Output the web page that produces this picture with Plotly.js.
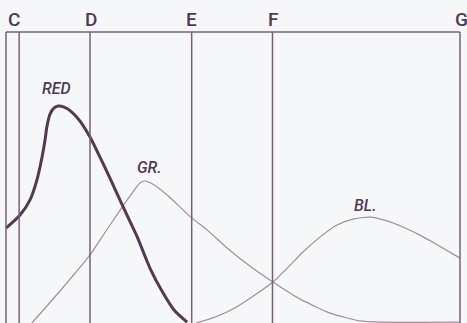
<!DOCTYPE html>
<html>
<head>
<meta charset="utf-8">
<script src="https://cdn.plot.ly/plotly-3.0.1.min.js"></script>
<style>
html,body{margin:0;padding:0;background:#f6f7f9;}
#chart{width:467px;height:323px;}
</style>
</head>
<body>
<div id="chart"></div>
<script>
// Fraunhofer lines (position along the spectrum scale, frame = 0..100)
var lineLabels = ["C", "D", "E", "F", "G"];
var linePos = [2.9, 18.5, 40.9, 58.7, 100];

// Red sensation curve
var redX = [0, 3.1, 5.3, 6.8, 7.9, 8.6, 9.0, 9.7, 10.6, 11.5, 12.8, 14.5, 16.3, 18.5, 20.7, 22.9, 25.8, 28.9, 31.7, 34.6, 37.2, 39.9];
var redY = [32.6, 37.1, 42.3, 49.1, 56.7, 62.9, 67.4, 71.8, 73.9, 74.6, 74.2, 72.5, 69.4, 63.9, 57.0, 49.8, 39.9, 29.6, 18.9, 10.3, 4.1, 0.3];

// Green sensation curve
var greenX = [5.7, 11.9, 18.5, 21.6, 24.4, 27.3, 29.5, 30.6, 31.9, 35.5, 40.7, 44.3, 48.7, 53.7, 58.8, 64.8, 71.4, 78.0, 82.4, 100];
var greenY = [0, 11.0, 23.4, 30.6, 37.1, 43.6, 48.1, 48.8, 48.1, 44.0, 36.4, 32.0, 25.8, 19.6, 14.1, 8.2, 3.4, 0.7, 0.3, 0.3];

// Blue sensation curve
var blueX = [41.9, 44.9, 48.7, 51.5, 54.8, 58.8, 62.6, 65.4, 69.2, 72.9, 76.4, 80.2, 83.9, 87.4, 91.2, 94.3, 100];
var blueY = [0, 1.4, 3.8, 6.2, 9.6, 14.1, 19.9, 24.4, 29.6, 33.7, 35.7, 36.4, 35.1, 33.0, 30.2, 27.5, 22.3];

var curveLabels = ["RED", "GR.", "BL."];

var ink = "#4f3a52";
var frameCol = "#766174";
var thin = "#a08d9d";

var traces = [
  {x: greenX, y: greenY, mode: "lines", line: {color: thin, width: 1.2, shape: "spline", smoothing: 0.6}, hoverinfo: "skip"},
  {x: blueX, y: blueY, mode: "lines", line: {color: thin, width: 1.2, shape: "spline", smoothing: 0.6}, hoverinfo: "skip"},
  {x: redX, y: redY, mode: "lines", line: {color: "#523a4f", width: 3, shape: "spline", smoothing: 0.7}, hoverinfo: "skip"}
];

var shapes = [];
// frame: left edge and top
shapes.push({type: "line", xref: "x", yref: "y", x0: 0, x1: 0, y0: -2, y1: 100, line: {color: frameCol, width: 1.5}});
shapes.push({type: "line", xref: "x", yref: "y", x0: 0, x1: 100, y0: 100, y1: 100, line: {color: frameCol, width: 1.5}});
for (var i = 0; i < linePos.length; i++) {
  shapes.push({type: "line", xref: "x", yref: "y", x0: linePos[i], x1: linePos[i], y0: -2, y1: 100, line: {color: frameCol, width: 1.5}});
}

var letterFont = {family: "Roboto, sans-serif", size: 19, color: ink, weight: 500};
var labelFont = {family: "Roboto, sans-serif", size: 16, color: ink, style: "italic", weight: 500};

var annotations = [];
var letterShift = [-5, 1, 0, 0, 1];
for (var j = 0; j < lineLabels.length; j++) {
  annotations.push({text: lineLabels[j], x: linePos[j], xref: "x", y: 100, yref: "y", yanchor: "middle", xanchor: "center", yshift: 13, xshift: letterShift[j], showarrow: false, font: letterFont});
}
annotations.push({text: curveLabels[0], x: 11.2, y: 80.6, xref: "x", yref: "y", showarrow: false, font: labelFont});
annotations.push({text: curveLabels[1], x: 31.5, y: 53.3, xref: "x", yref: "y", showarrow: false, font: labelFont});
annotations.push({text: curveLabels[2], x: 79.2, y: 40.5, xref: "x", yref: "y", showarrow: false, font: labelFont});

var layout = {
  width: 467, height: 323,
  margin: {l: 4, r: 5, t: 30, b: 0, pad: 0},
  paper_bgcolor: "#f6f7f9",
  plot_bgcolor: "#f6f7f9",
  showlegend: false,
  xaxis: {range: [-0.44, 100.44], visible: false, fixedrange: true},
  yaxis: {range: [0, 100.7], visible: false, fixedrange: true},
  shapes: shapes,
  annotations: annotations
};

Plotly.newPlot("chart", traces, layout, {staticPlot: true, displayModeBar: false});
</script>
</body>
</html>
